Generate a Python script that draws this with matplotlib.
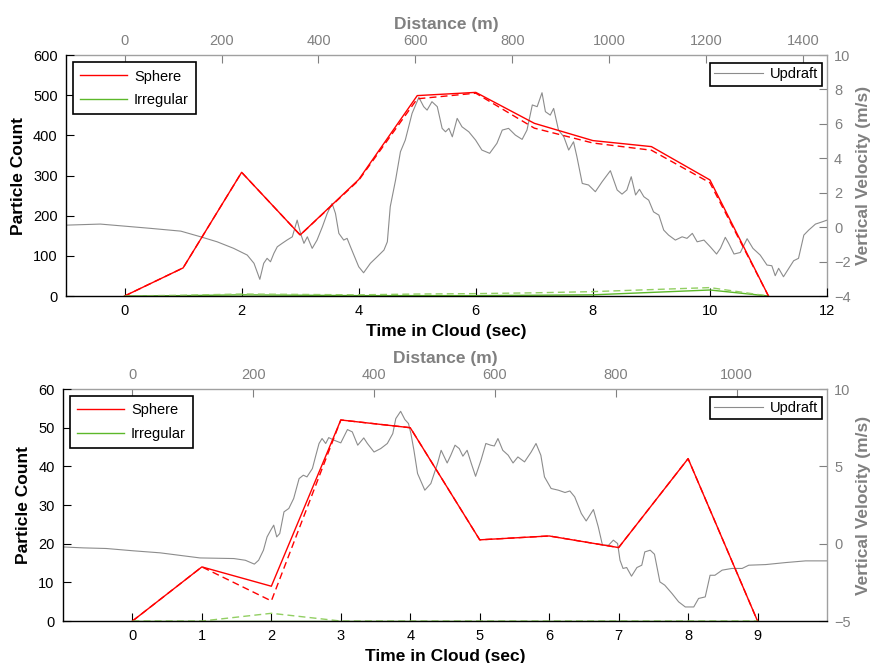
import matplotlib.pyplot as plt

plt.rcParams['font.family'] = ['Liberation Sans', 'DejaVu Sans']

RED = '#ff0000'
GREEN = '#5cb82a'
GREEN_LT = '#92cf62'
GRAY = '#8c8c8c'
AXGRAY = '#808080'

# ---- top panel data ----
t_top = [0, 1, 2, 3, 4, 5, 6, 7, 8, 9, 10, 11]
sphere_top = [0, 70, 308, 152, 290, 499, 507, 430, 387, 372, 289, 0]
sphere_top_d = [0, 70, 308, 152, 288, 491, 505, 418, 381, 363, 282, 0]
irreg_top = [0, 1, 3, 2, 1, 1, 1, 2, 3, 9, 15, 0]
irreg_top_d = [0, 2, 5, 4, 3, 5, 6, 8, 11, 16, 21, 0]

dist_top = [-118, -50, 0, 54, 116, 157, 191, 225, 253, 267, 279, 287, 294, 301, 308, 315, 325, 335, 346, 356,
            363, 370, 377, 387, 397, 408, 418, 428, 435, 442, 452, 459, 466, 473, 483, 493, 507, 521, 535, 542,
            548, 559, 569, 579, 593, 607, 617, 624, 634, 645, 655, 662, 669, 676, 686, 696, 710, 724, 737, 753,
            768, 779, 792, 806, 820, 830, 841, 851, 861, 868, 878, 885, 895, 906, 916, 926, 933, 944, 957, 971,
            985, 1002, 1016, 1026, 1036, 1045, 1054, 1062, 1071, 1081, 1091, 1102, 1112, 1122, 1136, 1150, 1160,
            1171, 1181, 1195, 1208, 1221, 1229, 1239, 1246, 1257, 1270, 1284, 1296, 1311, 1325, 1335, 1342, 1349,
            1359, 1370, 1380, 1390, 1401, 1411, 1425, 1439, 1449]
updraft_top = [0.12, 0.18, 0.06, -0.07, -0.23, -0.56, -0.85, -1.23, -1.62, -2.10, -3.03, -2.10, -1.81, -2.01,
               -1.52, -1.14, -0.94, -0.75, -0.56, 0.41, -0.36, -0.94, -0.56, -1.23, -0.75, 0.02, 0.80, 1.38, 0.80,
               -0.36, -0.75, -0.65, -1.14, -1.62, -2.30, -2.65, -2.10, -1.72, -1.33, -0.85, 1.19, 2.74, 4.38, 5.06,
               6.61, 7.54, 7.00, 6.80, 7.29, 7.00, 5.74, 5.54, 5.74, 5.25, 6.32, 5.83, 5.54, 5.06, 4.48, 4.29, 4.87,
               5.64, 5.74, 5.35, 5.10, 5.64, 7.10, 7.00, 7.81, 6.71, 6.51, 6.90, 5.64, 5.25, 4.48, 4.96, 4.09, 2.54,
               2.45, 2.06, 2.64, 3.28, 2.16, 1.92, 2.16, 2.93, 1.87, 2.20, 1.77, 1.57, 0.89, 0.70, -0.17, -0.46,
               -0.75, -0.56, -0.65, -0.36, -0.85, -0.75, -1.14, -1.56, -1.23, -0.59, -0.94, -1.56, -1.47, -0.67,
               -1.23, -1.62, -2.20, -2.24, -2.82, -2.39, -2.88, -2.39, -1.95, -1.81, -0.46, -0.17, 0.18, 0.31, 0.41]

# ---- bottom panel data ----
t_bot = [0, 1, 2, 3, 4, 5, 6, 7, 8, 9]
sphere_bot = [0, 14, 9, 52, 50, 21, 22, 19, 42, 0]
sphere_bot_d = [0, 14, 5.2, 52, 50, 21, 22, 19, 42, 0]
irreg_bot = [0, 0, 0, 0, 0, 0, 0, 0, 0, 0]
irreg_bot_d = [0, 0, 2, 0, 0, 0, 0, 0, 0, 0]

dist_bot = [-115, -81, -43, 2, 46, 90, 112, 140, 168, 187, 202, 209, 217, 223, 229, 234, 239, 244, 251, 259,
            267, 276, 283, 289, 298, 303, 309, 314, 320, 325, 334, 345, 356, 364, 373, 383, 389, 400, 411, 422,
            431, 436, 444, 451, 457, 461, 466, 472, 484, 494, 505, 511, 521, 527, 534, 541, 547, 554, 561, 568,
            577, 585, 593, 599, 605, 613, 622, 630, 638, 649, 660, 668, 676, 682, 693, 705, 716, 724, 732, 743,
            751, 763, 771, 778, 788, 796, 803, 807, 812, 818, 826, 835, 843, 848, 857, 864, 873, 881, 893, 904,
            915, 929, 937, 948, 956, 964, 976, 992, 1009, 1020, 1048, 1081, 1114, 1150]
updraft_bot = [-0.21, -0.27, -0.31, -0.46, -0.59, -0.81, -0.92, -0.94, -0.96, -1.07, -1.32, -1.07, -0.42, 0.44,
               0.87, 1.20, 0.44, 0.66, 2.06, 2.28, 2.92, 4.21, 4.43, 4.32, 4.86, 5.61, 6.48, 6.80, 6.48, 6.86,
               6.69, 6.52, 7.38, 7.23, 6.37, 6.84, 6.48, 5.93, 6.15, 6.48, 7.12, 8.09, 8.56, 8.03, 7.77, 7.12,
               6.04, 4.54, 3.46, 3.89, 5.18, 6.04, 5.22, 5.72, 6.37, 6.15, 5.66, 6.04, 5.18, 4.36, 5.40, 6.48,
               6.37, 6.32, 6.80, 6.04, 5.72, 5.22, 5.61, 5.29, 5.93, 6.48, 5.72, 4.32, 3.57, 3.46, 3.31, 3.41,
               3.03, 1.95, 1.47, 2.21, 1.09, -0.10, -0.10, 0.23, 0.01, -1.07, -1.60, -1.54, -2.10, -1.54, -1.39,
               -0.53, -0.42, -0.68, -2.47, -2.68, -3.22, -3.76, -4.09, -4.09, -3.54, -3.44, -2.04, -2.04, -1.71,
               -1.60, -1.60, -1.39, -1.35, -1.22, -1.11, -1.11]

fig = plt.figure(figsize=(8.71, 6.63), dpi=100)


def panel(rect, t, sph, sph_d, irr, irr_d, dist, upd, xlim, dlim, ylim, vlim,
          xticks, yticks, dticks, vticks):
    # gray axes: distance (top) vs vertical velocity (right)
    ax2 = fig.add_axes(rect, zorder=1)
    ax2.plot(dist, upd, color=GRAY, lw=0.8, label='Updraft')
    ax2.set_xlim(dlim)
    ax2.set_ylim(vlim)
    ax2.set_xticks(dticks)
    ax2.set_yticks(vticks)
    ax2.xaxis.tick_top()
    ax2.yaxis.tick_right()
    ax2.xaxis.set_label_position('top')
    ax2.yaxis.set_label_position('right')
    ax2.set_xlabel('Distance (m)', color=AXGRAY, fontsize=12.5, fontweight='bold', labelpad=4)
    ax2.set_ylabel('Vertical Velocity (m/s)', color=AXGRAY, fontsize=12.5, fontweight='bold', labelpad=4)
    ax2.tick_params(direction='in', length=6, width=0.8, colors=AXGRAY, labelsize=10.5, pad=5)
    for s in ['left', 'bottom']:
        ax2.spines[s].set_visible(False)
    for s in ['top', 'right']:
        ax2.spines[s].set_color('#a0a0a0')
        ax2.spines[s].set_linewidth(1.0)
    leg2 = ax2.legend(loc='upper right', bbox_to_anchor=(0.994, 0.967), borderaxespad=0,
                      fancybox=False, framealpha=1, edgecolor='black', fontsize=10.5,
                      handlelength=3.3, handletextpad=0.5, borderpad=0.3)
    leg2.get_frame().set_linewidth(1.2)

    # main axes: time vs particle count
    ax = fig.add_axes(rect, zorder=2)
    ax.patch.set_visible(False)
    ax.plot(t, sph, color=RED, lw=1.0, label='Sphere')
    ax.plot(t, irr, color=GREEN, lw=1.0, label='Irregular')
    ax.plot(t, sph_d, color=RED, lw=1.0, ls=(0, (5, 3)))
    ax.plot(t, irr_d, color=GREEN_LT, lw=1.0, ls=(0, (5, 3)))
    ax.set_xlim(xlim)
    ax.set_ylim(ylim)
    ax.set_xticks(xticks)
    ax.set_yticks(yticks)
    ax.set_xlabel('Time in Cloud (sec)', fontsize=12.5, fontweight='bold', labelpad=4)
    ax.set_ylabel('Particle Count', fontsize=12.5, fontweight='bold', labelpad=5)
    ax.tick_params(direction='in', length=6, width=0.8, colors='black', labelsize=10.5, pad=6)
    for s in ['top', 'right']:
        ax.spines[s].set_visible(False)
    for s in ['left', 'bottom']:
        ax.spines[s].set_linewidth(1.0)
    leg = ax.legend(loc='upper left', bbox_to_anchor=(0.009, 0.97), borderaxespad=0,
                    fancybox=False, framealpha=1, edgecolor='black', fontsize=10.5,
                    handlelength=3.2, handletextpad=0.5, labelspacing=0.65, borderpad=0.5)
    leg.get_frame().set_linewidth(1.2)
    return ax, ax2


panel([0.0758, 0.5535, 0.8737, 0.3635], t_top, sphere_top, sphere_top_d, irreg_top, irreg_top_d,
      dist_top, updraft_top, (-1, 12), (-120.7, 1448.8), (0, 600), (-4, 10),
      [0, 2, 4, 6, 8, 10, 12], list(range(0, 601, 100)), list(range(0, 1401, 200)), list(range(-4, 11, 2)))

panel([0.0723, 0.0633, 0.8772, 0.3499], t_bot, sphere_bot, sphere_bot_d, irreg_bot, irreg_bot_d,
      dist_bot, updraft_bot, (-1, 10), (-114.7, 1149.5), (0, 60), (-5, 10),
      list(range(0, 10)), list(range(0, 61, 10)), list(range(0, 1001, 200)), [-5, 0, 5, 10])

fig.savefig('out.png', dpi=100)
